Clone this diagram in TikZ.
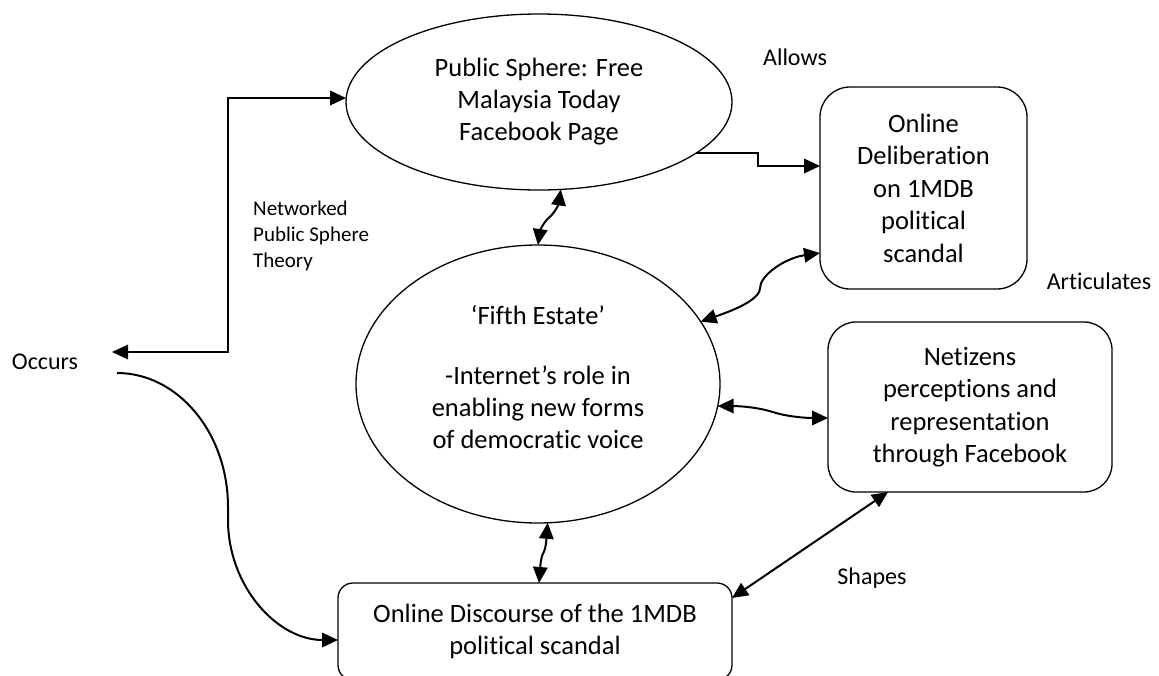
\documentclass[tikz,border=0pt]{standalone}
\usepackage{fontspec}
\setmainfont{Carlito}[Ligatures=NoCommon]
\usetikzlibrary{arrows.meta,shapes.geometric,calc}
\begin{document}
\begin{tikzpicture}[x=1pt,y=-1pt,
  >={Triangle[length=16pt,width=14.5pt]},
  conn/.style={line width=2pt},
  maintext/.style={align=center,font=\fontsize{26.5}{32}\selectfont},
  oval/.style={draw,ellipse,line width=1.3pt,inner sep=0pt,outer sep=0pt,maintext},
  rbox/.style={draw,rectangle,line width=1.3pt,inner sep=0pt,outer sep=0pt,align=center,font=\fontsize{26.5}{32.5}\selectfont},
  lbl/.style={inner sep=0pt,font=\fontsize{24}{29}\selectfont},
]
\useasboundingbox (0,0) rectangle (1159,675);
\clip (0,0) rectangle (1159,675);
\fill[white] (0,0) rectangle (1159,675);

\node[oval,minimum width=386pt,minimum height=176pt] (pub) at (539,102) {Public Sphere: Free\\Malaysia Today\\Facebook Page};
\node[oval,minimum width=364pt,minimum height=278pt] (fifth) at (538,384) {};
\node[maintext,inner sep=0pt] (fifthtext) at ([yshift=7pt]fifth.center) {‘Fifth Estate’\\[28pt]-Internet’s role in\\enabling new forms\\of democratic voice};
\node[rbox,rounded corners=30pt,minimum width=207pt,minimum height=202pt] (delib) at (923.5,188) {Online\\Deliberation\\on 1MDB\\political\\scandal};
\node[rbox,rounded corners=28pt,minimum width=284pt,minimum height=170pt] (netz) at (970,407) {Netizens\\perceptions and\\representation\\through Facebook};
\node[rbox,rounded corners=15pt,minimum width=394pt,minimum height=97pt] (disc) at (535,631.5) {Online Discourse of the 1MDB\\political scandal};

\node[lbl] (allows) at (795,57) {Allows};
\node[lbl] (artic) at (1099,281) {Articulates};
\node[lbl] (shapes) at (872,578) {Shapes};
\node[lbl] (occurs) at (45,362) {Occurs};
\node[inner sep=0pt,anchor=west,align=left,font=\fontsize{21}{26}\selectfont] (theory) at (253,236) {Networked\\Public Sphere\\Theory};

\coordinate (occA) at (112,352);
\coordinate (occB) at (117,373);

\draw[conn,<->] (occA) -- ++(116,0) |- ([yshift=4pt]pub.west);
\draw[conn,->] (occB) .. controls +(61,0) and +(0,-74) .. ($(occB)+(111,134)$) -- ++(0,13) .. controls +(0,66) and +(-61,0) .. ([yshift=-8.5pt]disc.west);
\draw[conn,->] (pub.-18.4) -- ++(62,0) |- ([yshift=22pt]delib.west);
\draw[conn,<->] (pub.-76) .. controls +(-2,14) and +(6,-5) .. ($(pub.-76)!0.5!(fifth.north)$) .. controls +(-6,5) and +(2,-14) .. (fifth.north);
\draw[conn,<->] (fifth.21) .. controls +(35,-12) and +(0,12) .. ($(fifth.21)!0.5!([yshift=-65pt]delib.west)$) .. controls +(0,-12) and +(-35,5) .. ([yshift=-65pt]delib.west);
\draw[conn,<->] (fifth.-7) .. controls +(25,0) and +(-12,-4) .. ($(fifth.-7)!0.5!([yshift=-11pt]netz.west)$) .. controls +(12,4) and +(-25,0) .. ([yshift=-11pt]netz.west);
\draw[conn,<->] (fifth.-86) .. controls +(-1,12) and +(3,-5) .. ($(fifth.-86)!0.5!([xshift=4pt]disc.north)$) .. controls +(-3,5) and +(1,-12) .. ([xshift=4pt]disc.north);
\draw[conn,<->] ([xshift=-82pt]netz.south) -- ([yshift=-15pt]disc.north east);
\end{tikzpicture}
\end{document}
